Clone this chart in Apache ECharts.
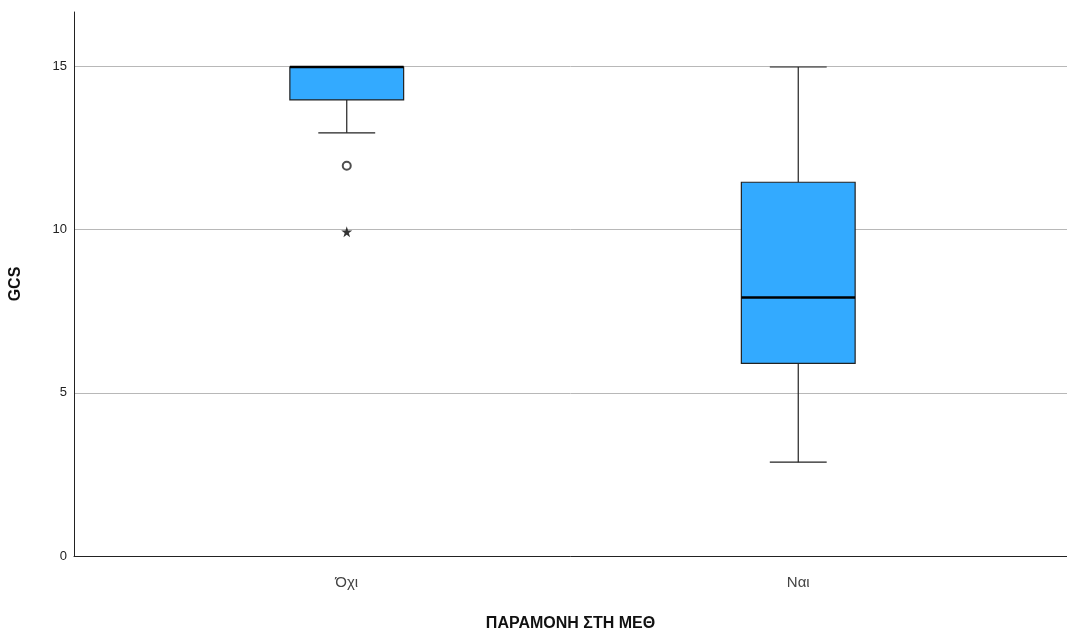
<!DOCTYPE html>
<html><head><meta charset="utf-8">
<script src="https://cdn.jsdelivr.net/npm/echarts@6/dist/echarts.min.js"></script>
<style>html,body{margin:0;padding:0;background:#fff}#c{width:1067px;height:637px}</style>
</head><body><div id="c"></div>
<script>
const categories = ['Όχι', 'Ναι'];
const lowWhisker = [13, 3];
const q1 = [14, 6];
const median = [15, 8];
const q3 = [15, 11.5];
const highWhisker = [15, 15];
const outliers = [[0, 12]];
const extremes = [[0, 10]];
const yMin = 0, yMax = 16.67, yInterval = 5;

const boxData = categories.map((c, i) => [i, lowWhisker[i], q1[i], median[i], q3[i], highWhisker[i]]);
const font = '"Liberation Sans", Arial, sans-serif';
const starPath = 'path://M50,0 L61,35 L98,35 L68,57 L79,91 L50,70 L21,91 L32,57 L2,35 L39,35 Z';

const chart = echarts.init(document.getElementById('c'));
chart.setOption({
  animation: false,
  backgroundColor: '#fff',
  grid: [
    {left: 71, right: 0, top: 12, bottom: 76},
    {left: 121, right: 43, top: 12, bottom: 76}
  ],
  xAxis: [
    {gridIndex: 0, type: 'value', min: 0, max: 1, axisLabel: {show: false}, axisTick: {show: false}, splitLine: {show: false},
     axisLine: {show: true, onZero: false, lineStyle: {color: '#222', width: 1}},
     name: 'ΠΑΡΑΜΟΝΗ ΣΤΗ ΜΕΘ', nameLocation: 'middle', nameGap: 60,
     nameTextStyle: {fontFamily: font, fontSize: 16, fontWeight: 'bold', color: '#111'}},
    {gridIndex: 1, type: 'category', data: categories, boundaryGap: true,
     axisLine: {show: false}, axisTick: {show: false}, splitLine: {show: false},
     axisLabel: {fontFamily: font, fontSize: 15, color: '#444', margin: 14}}
  ],
  yAxis: [
    {gridIndex: 0, type: 'value', min: yMin, max: yMax, interval: yInterval,
     axisLine: {show: true, lineStyle: {color: '#222', width: 1}}, axisTick: {show: false},
     axisLabel: {fontFamily: font, fontSize: 13, color: '#222', margin: 7, showMaxLabel: false,
       formatter: v => (v % yInterval === 0 ? String(v) : '')},
     splitLine: {show: true, showMaxLine: false, lineStyle: {color: '#b8b8b8', width: 1}},
     name: 'GCS', nameLocation: 'middle', nameGap: 50, nameRotate: 90,
     nameTextStyle: {fontFamily: font, fontSize: 16, fontWeight: 'bold', color: '#111'}},
    {gridIndex: 1, type: 'value', min: yMin, max: yMax, interval: yInterval, show: false}
  ],
  series: [
    {
      type: 'custom', xAxisIndex: 1, yAxisIndex: 1, data: boxData,
      encode: {x: 0, y: [1, 2, 3, 4, 5]},
      renderItem: function (params, api) {
        const idx = api.value(0);
        const band = api.size([1, 0])[0];
        const bw = band * 0.252;
        const cw = bw * 0.5;
        const pLow = api.coord([idx, api.value(1)]);
        const pQ1 = api.coord([idx, api.value(2)]);
        const pMed = api.coord([idx, api.value(3)]);
        const pQ3 = api.coord([idx, api.value(4)]);
        const pHigh = api.coord([idx, api.value(5)]);
        const x = pQ1[0];
        const ls = {stroke: '#222', lineWidth: 1.2};
        const children = [];
        if (pHigh[1] < pQ3[1] - 0.5) {
          children.push({type: 'line', shape: {x1: x, y1: pQ3[1], x2: x, y2: pHigh[1]}, style: ls});
          children.push({type: 'line', shape: {x1: x - cw / 2, y1: pHigh[1], x2: x + cw / 2, y2: pHigh[1]}, style: ls});
        }
        if (pLow[1] > pQ1[1] + 0.5) {
          children.push({type: 'line', shape: {x1: x, y1: pQ1[1], x2: x, y2: pLow[1]}, style: ls});
          children.push({type: 'line', shape: {x1: x - cw / 2, y1: pLow[1], x2: x + cw / 2, y2: pLow[1]}, style: ls});
        }
        children.push({type: 'rect', shape: {x: x - bw / 2, y: pQ3[1], width: bw, height: pQ1[1] - pQ3[1]},
          style: {fill: '#33aaff', stroke: '#222', lineWidth: 1.2}});
        children.push({type: 'line', shape: {x1: x - bw / 2, y1: pMed[1], x2: x + bw / 2, y2: pMed[1]},
          style: {stroke: '#000', lineWidth: 2.5}});
        return {type: 'group', children: children};
      },
      z: 3
    },
    {type: 'scatter', xAxisIndex: 1, yAxisIndex: 1, data: outliers, symbol: 'emptyCircle', symbolSize: 8,
     itemStyle: {color: '#222', borderColor: '#222', borderWidth: 1.8}, z: 4},
    {type: 'scatter', xAxisIndex: 1, yAxisIndex: 1, data: extremes, symbol: starPath, symbolSize: 11,
     itemStyle: {color: '#000'}, z: 4}
  ]
});
</script></body></html>
